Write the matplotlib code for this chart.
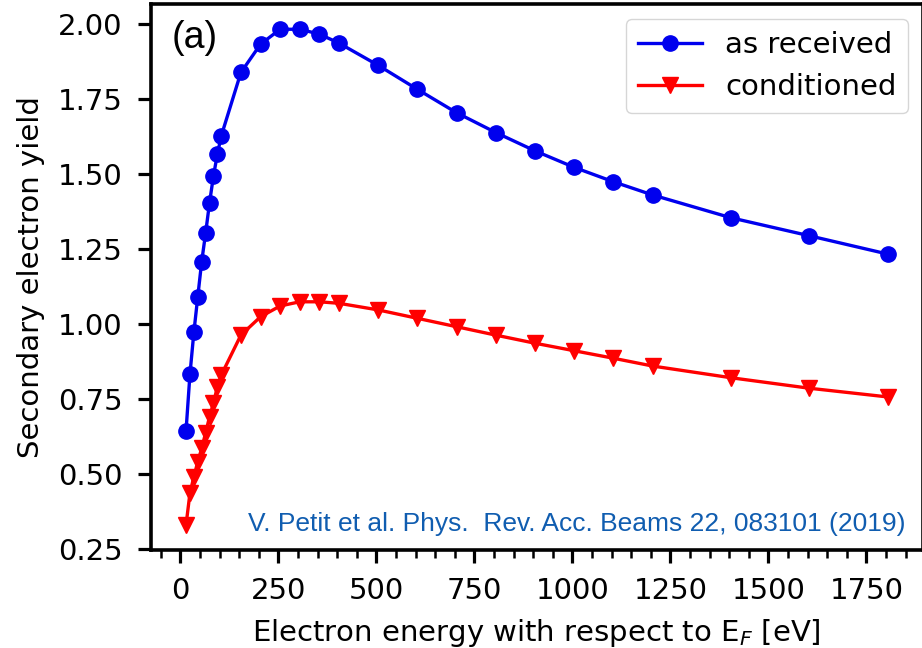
import matplotlib
matplotlib.use('Agg')
import matplotlib.pyplot as plt
from matplotlib.ticker import MultipleLocator, FormatStrFormatter

# energies (eV, w.r.t. E_F) and SEY values
energy = [14.5, 24.5, 34.5, 44.5, 54.5, 64.5, 74.5, 84.5, 94.5, 104.5,
          154.5, 204.5, 254.5, 304.5, 354.5, 404.5, 504.5, 604.5, 704.5,
          804.5, 904.5, 1004.5, 1104.5, 1204.5, 1404.5, 1604.5, 1804.5]

sey_received = [0.643, 0.832, 0.972, 1.091, 1.208, 1.303, 1.404, 1.493, 1.566, 1.627,
                1.838, 1.932, 1.982, 1.982, 1.966, 1.936, 1.862, 1.782, 1.704,
                1.638, 1.577, 1.522, 1.474, 1.430, 1.354, 1.294, 1.233]

sey_conditioned = [0.330, 0.436, 0.491, 0.541, 0.586, 0.637, 0.691, 0.736, 0.791, 0.830,
                   0.963, 1.024, 1.060, 1.074, 1.074, 1.069, 1.047, 1.019, 0.991,
                   0.963, 0.936, 0.911, 0.886, 0.860, 0.821, 0.786, 0.757]

fig = plt.figure(figsize=(9.22, 6.48), dpi=100)
ax = fig.add_axes([0.1637, 0.1514, 0.8372, 0.8417])

ax.plot(energy, sey_received, '-o', color='#0000ee', lw=2.4, ms=11, label='as received')
ax.plot(energy, sey_conditioned, '-v', color='#ff0000', lw=2.4, ms=12, label='conditioned')

ax.set_xlabel('Electron energy with respect to E$_F$ [eV]', fontsize=21, labelpad=9)
ax.set_ylabel('Secondary electron yield', fontsize=21, labelpad=9)

ax.xaxis.set_major_locator(MultipleLocator(250))
ax.xaxis.set_minor_locator(MultipleLocator(50))
ax.yaxis.set_major_locator(MultipleLocator(0.25))
ax.yaxis.set_major_formatter(FormatStrFormatter('%.2f'))
ax.tick_params(axis='both', which='major', labelsize=21, length=9.5, width=2.3)
ax.tick_params(axis='y', which='major', pad=11)
ax.tick_params(axis='x', which='major', pad=10)
ax.tick_params(axis='x', which='minor', length=6, width=1.8)
for sp in ax.spines.values():
    sp.set_linewidth(2.6)

ax.legend(loc='upper right', fontsize=21, handlelength=2.2)

ax.text(0.027, 0.972, '(a)', transform=ax.transAxes, fontsize=27,
        family='Liberation Sans', va='top', ha='left')
ax.text(0.977, 0.025, 'V. Petit et al. Phys.  Rev. Acc. Beams 22, 083101 (2019)',
        transform=ax.transAxes, fontsize=19, family='Liberation Sans',
        color='#105db0', ha='right', va='bottom')

fig.savefig('out.png', dpi=100)
